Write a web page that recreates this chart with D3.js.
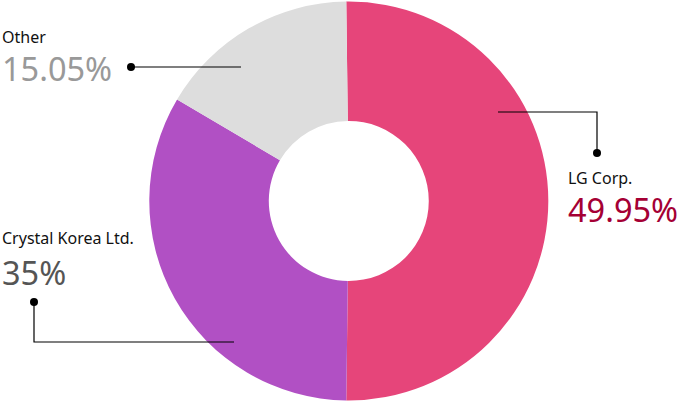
<!DOCTYPE html>
<html><head><meta charset="utf-8">
<script src="https://cdn.jsdelivr.net/npm/d3@7"></script>
<style>body{margin:0;background:#fff}svg{display:block}text{font-family:"Noto Sans","Open Sans",sans-serif}</style>
</head><body>
<svg id="c" width="680" height="402"></svg>
<script>
const labels = ["LG Corp.", "Crystal Korea Ltd.", "Other"];
const valueText = ["49.95%", "35%", "15.05%"];
// slice sizes as drawn in the picture (angles)
const sliceValues = [50.4, 33.3, 16.3];
const colors = ["#e6457a", "#b150c4", "#dddddd"];
const valueColors = ["#a50034", "#555555", "#999999"];

const svg = d3.select("#c");
const cx = 348.8, cy = 201, R = 199.5, r = 80;
const a0 = -0.0126;
const pie = d3.pie().sort(null).startAngle(a0).endAngle(a0 + 2 * Math.PI).value(d => d)(sliceValues);
const arc = d3.arc().innerRadius(r).outerRadius(R);
const g = svg.append("g").attr("transform", `translate(${cx},${cy})`);
g.selectAll("path").data(pie).join("path").attr("d", arc).attr("fill", (d,i) => colors[i]);

// leader lines
const leaders = [
  [[498,112],[597,112],[597,153]],
  [[234,342],[34,342],[34,302]],
  [[241,67],[131,67]]
];
leaders.forEach(pts => {
  svg.append("path").attr("d", d3.line()(pts)).attr("fill","none").attr("stroke","#000").attr("stroke-width",1.2);
  const e = pts[pts.length-1];
  svg.append("circle").attr("cx", e[0]).attr("cy", e[1]).attr("r", 4).attr("fill","#000");
});

const pos = [[568,183.5,222],[2,244,285],[2,43,81]];
labels.forEach((l,i) => {
  svg.append("text").attr("x", pos[i][0]).attr("y", pos[i][1]).attr("font-size", 16).attr("fill","#111").text(l);
  svg.append("text").attr("x", pos[i][0]).attr("y", pos[i][2]).attr("font-size", 32.5).attr("fill", valueColors[i]).text(valueText[i]);
});
</script>
</body></html>
